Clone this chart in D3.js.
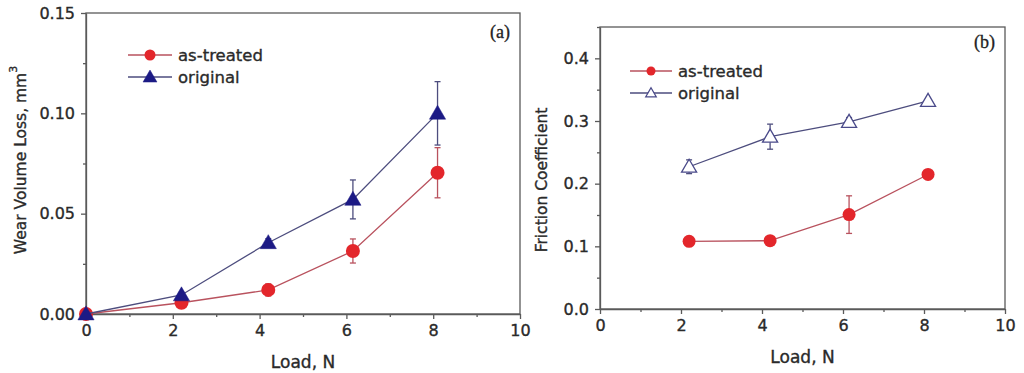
<!DOCTYPE html>
<html lang="en">
<head>
    <meta charset="UTF-8">
    <title>Wear volume loss and friction coefficient vs load</title>
    <script src="https://d3js.org/d3.v7.min.js"></script>
    <style>
        body { margin: 0; background: #fff; }
        svg { display: block; font-family: "DejaVu Sans", Arial, sans-serif; }
        .axis path, .axis line { stroke: #5a5a5a; stroke-width: 1.3px; }
        .axis text, .title, .legend-text {
            fill: #2a2a2a; font-family: "DejaVu Sans", Arial, sans-serif;
            stroke: #2a2a2a; stroke-width: 0.35px;
        }
        .axis text { font-size: 16px; }
        .frame { fill: none; stroke: #5a5a5a; stroke-width: 1.3px; }
    </style>
</head>
<body>
    <svg id="chart" width="1024" height="373"></svg>

    <script>
        // Loads (N)
        const loadWear = [0, 2.2, 4.2, 6.15, 8.1];
        const loadFriction = [2.2, 4.2, 6.15, 8.1];

        // (a) wear volume loss, mm3
        const wearTreated = [0, 0.0056, 0.012, 0.0314, 0.0704];
        const wearTreatedErr = [0, 0.001, 0.003, 0.006, 0.0125];
        const wearOriginal = [0, 0.0095, 0.0355, 0.0571, 0.100];
        const wearOriginalErr = [0, 0.0012, 0.002, 0.0097, 0.0158];

        // (b) friction coefficient
        const frictionTreated = [0.108, 0.109, 0.1506, 0.2147];
        const frictionTreatedErr = [0, 0, 0.03, 0];
        const frictionOriginal = [0.227, 0.275, 0.2986, 0.332];
        const frictionOriginalErr = [0.011, 0.02, 0.007, 0.005];

        const xTicks = [0, 2, 4, 6, 8, 10];
        const xMinor = [1, 3, 5, 7, 9];
        const wearTicks = [0, 0.05, 0.10, 0.15];
        const wearMinor = [0.025, 0.075, 0.125];
        const frictionTicks = [0, 0.1, 0.2, 0.3, 0.4];
        const frictionMinor = [0.05, 0.15, 0.25, 0.35, 0.45];

        const redMark = "#e3262b", redLine = "#b9525e";
        const blueMark = "#1c1a85", blueLine = "#4d4d7e";

        const svg = d3.select("#chart");

        function drawPanel(cfg) {
            const g = svg.append("g");
            const x = d3.scaleLinear().domain([0, 10]).range([cfg.left, cfg.right]);
            const y = d3.scaleLinear().domain(cfg.yDomain).range([cfg.bottom, cfg.top]);

            // frame
            g.append("rect").attr("class", "frame")
                .attr("x", cfg.left).attr("y", cfg.top)
                .attr("width", cfg.right - cfg.left).attr("height", cfg.bottom - cfg.top);

            // axes, major + minor ticks
            g.append("g").attr("class", "axis")
                .attr("transform", `translate(0,${cfg.bottom})`)
                .call(d3.axisBottom(x).tickValues(xTicks).tickFormat(d3.format("d")).tickSize(5).tickPadding(6).tickSizeOuter(0));
            g.append("g").attr("class", "axis")
                .attr("transform", `translate(0,${cfg.bottom})`)
                .call(d3.axisBottom(x).tickValues(xMinor).tickFormat("").tickSize(3).tickSizeOuter(0))
                .select(".domain").remove();
            g.append("g").attr("class", "axis")
                .attr("transform", `translate(${cfg.left},0)`)
                .call(d3.axisLeft(y).tickValues(cfg.yTicks).tickFormat(d3.format(cfg.yFormat)).tickSize(5).tickPadding(6).tickSizeOuter(0));
            g.append("g").attr("class", "axis")
                .attr("transform", `translate(${cfg.left},0)`)
                .call(d3.axisLeft(y).tickValues(cfg.yMinor).tickFormat("").tickSize(3).tickSizeOuter(0))
                .select(".domain").remove();

            // axis titles
            g.append("text").attr("class", "title")
                .attr("x", (cfg.left + cfg.right) / 2).attr("y", cfg.xTitleY)
                .attr("text-anchor", "middle").style("font-size", "17px")
                .text("Load, N");
            const yt = g.append("text").attr("class", "title")
                .attr("transform", `translate(${cfg.yTitleX},${cfg.yTitleCenter}) rotate(-90)`)
                .attr("text-anchor", "middle").style("font-size", "15.5px")
                .text(cfg.yTitle);
            if (cfg.yTitleSup) {
                yt.append("tspan").attr("dy", -9).style("font-size", "11px").text(cfg.yTitleSup);
            }

            // panel tag
            g.append("text")
                .attr("x", cfg.right - 10).attr("y", cfg.tagY)
                .attr("text-anchor", "end")
                .style("font-family", "'Liberation Serif', 'DejaVu Serif', serif")
                .style("font-size", "18px").attr("fill", "#222")
                .attr("stroke", "#222").attr("stroke-width", 0.3)
                .text(cfg.tag);

            const line = d3.line().x(d => x(d.x)).y(d => y(d.y));

            cfg.series.forEach(s => {
                const pts = s.x.map((v, i) => ({ x: v, y: s.y[i], e: s.err[i] }));
                g.append("path").datum(pts)
                    .attr("d", line).attr("fill", "none")
                    .attr("stroke", s.line).attr("stroke-width", 1.3);

                // error bars
                const eb = g.append("g").attr("stroke", s.line).attr("stroke-width", 1.3);
                pts.filter(p => p.e > 0).forEach(p => {
                    eb.append("line").attr("x1", x(p.x)).attr("x2", x(p.x))
                        .attr("y1", y(p.y - p.e)).attr("y2", y(p.y + p.e));
                    [p.y - p.e, p.y + p.e].forEach(v => {
                        eb.append("line").attr("x1", x(p.x) - 3).attr("x2", x(p.x) + 3)
                            .attr("y1", y(v)).attr("y2", y(v));
                    });
                });

                drawMarkers(g, pts.map(p => [x(p.x), y(p.y)]), s, cfg.markSize);
            });

            // legend
            cfg.series.forEach((s, i) => {
                const ly = cfg.legend.y + i * cfg.legend.gap;
                g.append("line")
                    .attr("x1", cfg.legend.x).attr("x2", cfg.legend.x + cfg.legend.len)
                    .attr("y1", ly).attr("y2", ly)
                    .attr("stroke", s.line).attr("stroke-width", 1.3);
                drawMarkers(g, [[cfg.legend.x + cfg.legend.len / 2, ly]], s, cfg.legend.markSize);
                g.append("text").attr("class", "legend-text")
                    .attr("x", cfg.legend.x + cfg.legend.len + 6).attr("y", ly + 6)
                    .style("font-size", "16.5px")
                    .text(s.name);
            });
        }

        function drawMarkers(g, pts, s, size) {
            if (s.shape === "circle") {
                g.selectAll(null).data(pts).enter().append("circle")
                    .attr("cx", d => d[0]).attr("cy", d => d[1])
                    .attr("r", size.r)
                    .attr("fill", s.mark);
            } else {
                const h = size.tri;
                g.selectAll(null).data(pts).enter().append("path")
                    .attr("d", d => `M${d[0]},${d[1] - h * 0.58}L${d[0] + h * 0.58},${d[1] + h * 0.42}L${d[0] - h * 0.58},${d[1] + h * 0.42}Z`)
                    .attr("fill", s.open ? "#fff" : s.mark)
                    .attr("stroke", s.mark).attr("stroke-width", s.open ? 1.3 : 0.5);
            }
        }

        drawPanel({
            left: 86, right: 520, top: 13, bottom: 314,
            yDomain: [0, 0.15], yTicks: wearTicks, yMinor: wearMinor, yFormat: ".2f",
            yTitle: "Wear Volume Loss, mm", yTitleSup: "3",
            yTitleX: 26, yTitleCenter: 160, xTitleY: 368,
            tag: "(a)", tagY: 38,
            markSize: { r: 7, tri: 14 },
            legend: { x: 128, y: 55, gap: 22, len: 44, markSize: { r: 5.5, tri: 12 } },
            series: [
                { name: "as-treated", x: loadWear, y: wearTreated, err: wearTreatedErr, shape: "circle", mark: redMark, line: redLine },
                { name: "original", x: loadWear, y: wearOriginal, err: wearOriginalErr, shape: "triangle", mark: blueMark, line: blueLine }
            ]
        });

        drawPanel({
            left: 600, right: 1005, top: 27, bottom: 309,
            yDomain: [0, 0.45], yTicks: frictionTicks, yMinor: frictionMinor, yFormat: ".1f",
            yTitle: "Friction Coefficient",
            yTitleX: 547, yTitleCenter: 180, xTitleY: 363,
            tag: "(b)", tagY: 48,
            markSize: { r: 6.5, tri: 13 },
            legend: { x: 630, y: 71, gap: 22, len: 42, markSize: { r: 4.5, tri: 9 } },
            series: [
                { name: "as-treated", x: loadFriction, y: frictionTreated, err: frictionTreatedErr, shape: "circle", mark: redMark, line: redLine },
                { name: "original", x: loadFriction, y: frictionOriginal, err: frictionOriginalErr, shape: "triangle", open: true, mark: "#4a4a8a", line: blueLine }
            ]
        });
    </script>
</body>
</html>
